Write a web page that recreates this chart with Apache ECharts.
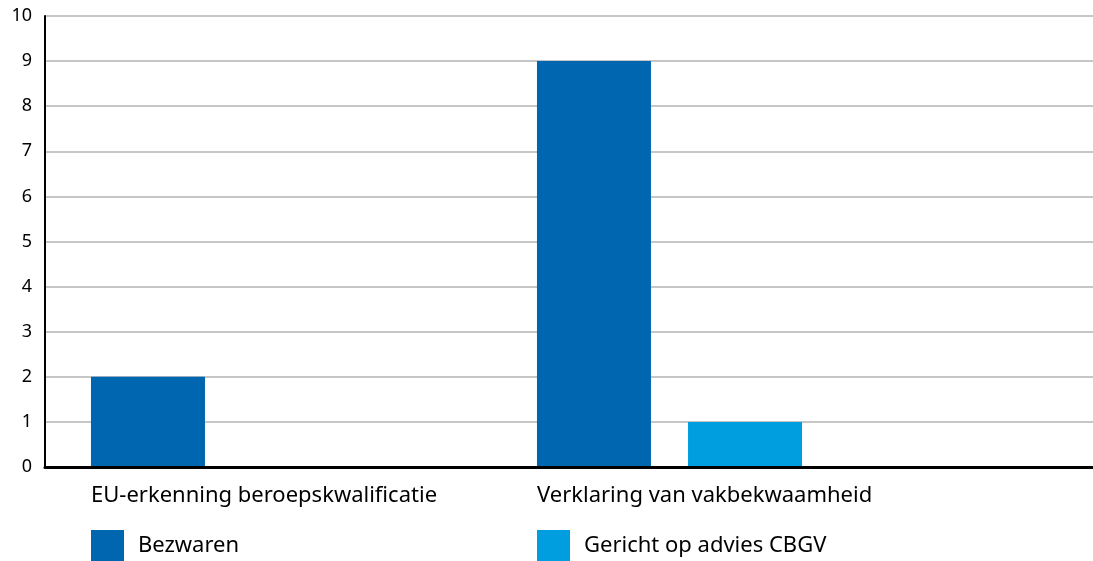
<!DOCTYPE html>
<html lang="nl">
<head>
    <meta charset="UTF-8">
    <title>Bezwaren</title>
    <style>
        html, body { margin: 0; padding: 0; background: #fff; }
        #main { width: 1093px; height: 561px; }
    </style>
</head>
<body>
<div id="main"></div>
<script src="https://cdn.jsdelivr.net/npm/echarts@6/dist/echarts.min.js"></script>
<script>
    var categories = ['EU-erkenning beroepskwalificatie', 'Verklaring van vakbekwaamheid'];
    var bezwaren = [2, 9];
    var gericht = [0, 1];
    var yTicks = [0, 1, 2, 3, 4, 5, 6, 7, 8, 9, 10];

    var font = '"Noto Sans", sans-serif';
    var myChart = echarts.init(document.getElementById('main'));

    var option = {
        animation: false,
        textStyle: { fontFamily: font },
        color: ['#0066b0', '#009ddf'],
        legend: [{
            data: ['Bezwaren'],
            left: 91, top: 530, padding: 0,
            icon: 'rect', itemWidth: 33, itemHeight: 31,
            textStyle: { fontSize: 22, color: '#000', fontFamily: font, padding: [2, 0, 0, 9] }
        }, {
            data: ['Gericht op advies CBGV'],
            left: 537, top: 530, padding: 0,
            icon: 'rect', itemWidth: 33, itemHeight: 31,
            textStyle: { fontSize: 22, color: '#000', fontFamily: font, padding: [2, 0, 0, 9] }
        }],
        grid: [
            // full width grid: y labels, gridlines, axis lines
            { left: 45, right: 0, top: 16, bottom: 94 },
            // bar grid: categories laid out at the original spacing
            { left: 0.5, width: 892, top: 16, bottom: 94 }
        ],
        xAxis: [{
            gridIndex: 0,
            type: 'category',
            data: categories,
            axisLine: { lineStyle: { color: '#000', width: 3 } },
            axisTick: { show: false },
            axisLabel: { show: false },
            z: 10
        }, {
            gridIndex: 1,
            type: 'category',
            data: categories,
            axisLine: { show: false },
            axisTick: { show: false },
            axisLabel: {
                margin: 18,
                formatter: function (v) { return '{a|' + v + '}'; },
                rich: {
                    a: { width: 265, align: 'left', fontSize: 22, color: '#000', fontFamily: font }
                }
            }
        }],
        yAxis: [{
            gridIndex: 0,
            type: 'value',
            min: yTicks[0], max: yTicks[yTicks.length - 1], interval: 1,
            axisLine: { show: true, lineStyle: { color: '#000', width: 2 } },
            axisTick: { show: false },
            axisLabel: { margin: 13, fontSize: 18, color: '#000', fontFamily: font },
            splitLine: { lineStyle: { color: '#c6c6c6', width: 2 } },
            z: 1
        }, {
            gridIndex: 1,
            type: 'value',
            min: yTicks[0], max: yTicks[yTicks.length - 1], interval: 1,
            show: false,
            splitLine: { show: false }
        }],
        series: [{
            name: 'Bezwaren',
            type: 'bar',
            xAxisIndex: 1, yAxisIndex: 1,
            barWidth: 114,
            barGap: '32.5%',
            data: bezwaren,
            z: 5
        }, {
            name: 'Gericht op advies CBGV',
            type: 'bar',
            xAxisIndex: 1, yAxisIndex: 1,
            barWidth: 114,
            barGap: '32.5%',
            data: gericht,
            z: 5
        }]
    };
    myChart.setOption(option);
</script>
</body>
</html>
